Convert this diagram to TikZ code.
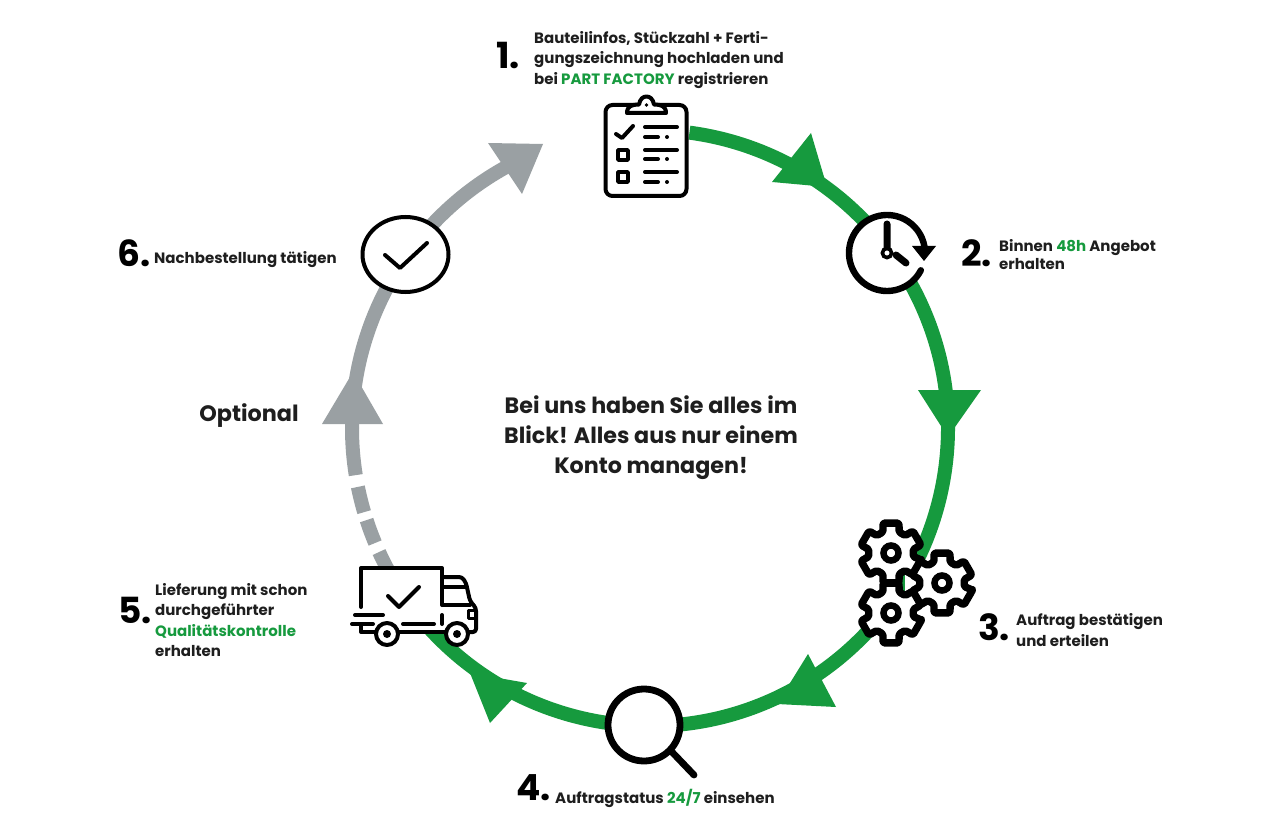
\documentclass[tikz,border=0pt]{standalone}
\usepackage{fontspec}
\setmainfont{Poppins}
\usetikzlibrary{calc}
\definecolor{pfgreen}{HTML}{169A3E}
\definecolor{pfgray}{HTML}{9AA0A3}
\definecolor{pfink}{HTML}{1E1E1E}
\newcommand{\gr}[1]{\textcolor{pfgreen}{#1}}
\tikzset{
  x=1pt,y=-1pt,
  greenring/.style={draw=pfgreen,line width=14pt},
  grayring/.style={draw=pfgray,line width=14pt},
  greenhead/.style={fill=pfgreen},
  grayhead/.style={fill=pfgray},
  icon/.style={draw=black,line width=4pt,line cap=round,line join=round},
  iconfill/.style={icon,fill=white},
  gearline/.style={draw=black,line width=7.4pt,line join=round,fill=white,rounded corners=1.5pt},
  numlabel/.style={anchor=base west,inner sep=0pt,font=\bfseries\fontsize{36}{36}\selectfont,text=black},
  steptext/.style={anchor=west,inner sep=0pt,align=left,text=pfink,font=\fontseries{sb}\fontsize{15}{#1}\selectfont},
  steptext/.default=20.5,
}
\newcommand{\gearat}[1]{%
  \draw[gearline,shift={(#1)}] (13:31) \foreach \a in {30,90,150,210,270,330}{ -- (\a-15:31) -- (\a+15:31) -- (\a+21:22.5) -- (\a+39:22.5)} -- cycle;
  \draw[draw=black,line width=6.5pt,fill=white] (#1) circle[radius=7.5];
}
\begin{document}
\begin{tikzpicture}
\useasboundingbox[fill=white] (0,0) rectangle (1280,821);
\coordinate (c) at (650,428);
\coordinate (greenstart) at ($(c)+(-82.4:298)$);
\coordinate (graystart) at ($(c)+(180:298)$);
\coordinate (dashA) at ($(c)+(168.6:298)$);
\coordinate (dashB) at ($(c)+(162:298)$);
\coordinate (dashC) at ($(c)+(155.4:298)$);
% rings
\draw[greenring] (greenstart) arc[start angle=-82.4,end angle=140,radius=298];
\draw[grayring] (graystart) arc[start angle=180,end angle=241,radius=298];
\draw[grayring] (graystart) arc[start angle=180,end angle=170.9,radius=298];
\draw[grayring] (dashA) arc[start angle=168.6,end angle=163.6,radius=298];
\draw[grayring] (dashB) arc[start angle=162,end angle=157.3,radius=298];
\draw[grayring] (dashC) arc[start angle=155.4,end angle=150,radius=298];
% arrowheads
\fill[greenhead] (811,133) -- (772,182) -- (827,187) -- cycle;
\fill[greenhead] (918,390) -- (981,390) -- (948,437) -- cycle;
\fill[greenhead] (808,654) -- (836,707) -- (777,704) -- cycle;
\fill[greenhead] (470,673) -- (527,683) -- (490,723) -- cycle;
\fill[grayhead] (353,372) -- (322,424) -- (383,424) -- cycle;
\fill[grayhead] (488,143) -- (543,144) -- (522,194) -- cycle;
% clipboard
\draw[iconfill,rounded corners=7pt] (605.5,105) rectangle (686.5,196);
\draw[iconfill] (627,113) .. controls (627,106) and (632,104.5) .. (639,104.5) .. controls (640,99) and (643,96.5) .. (646.5,96.5) .. controls (650,96.5) and (653,99) .. (654,104.5) .. controls (661,104.5) and (666,106) .. (666,113) -- cycle;
\fill[black] (646.5,105) circle[radius=1.8];
\draw[icon] (616,134) -- (622,138) -- (633,126);
\draw[icon] (645,127) -- (677,127) (645,137) -- (658,137);
\fill[black] (667,137) circle[radius=2];
\draw[icon,line width=3.6pt,line cap=butt] (618,150) rectangle (628,160);
\draw[icon] (645,150) -- (677,150) (645,159) -- (658,159);
\fill[black] (667,159) circle[radius=2];
\draw[icon,line width=3.6pt,line cap=butt] (618,172) rectangle (628,182);
\draw[icon] (645,172) -- (677,172) (645,182) -- (658,182);
\fill[black] (667,182) circle[radius=2];
% clock
\coordinate (clk) at (887,253);
\fill[white] (clk) circle[radius=38];
\draw[draw=black,line width=6.4pt,line cap=round] ($(clk)+(27:38)$) arc[start angle=27,end angle=350,radius=38];
\fill[black] (912,246) -- (936,246) -- (924,261) -- cycle;
\draw[icon,line width=7pt] (887,224) -- (887,248) (896,255) -- (906,263);
\draw[draw=black,line width=3.6pt,fill=white] (clk) circle[radius=4.6];
% gears
\fill[white] (905,570) -- (930,585) -- (905,610) -- cycle;
\gearat{891,553}
\gearat{942,583}
\gearat{891,613}
% magnifier
\draw[draw=black,line width=6.8pt,fill=white] (644,725) circle[radius=36];
\draw[draw=black,line width=6.8pt,line cap=round] (672,752) -- (694,775);
% truck
\fill[white] (361,568) rectangle (442,632);
\fill[white] (442,577) -- (465,577) -- (477,605) -- (477,632) -- (442,632) -- cycle;
\draw[icon] (361,607) -- (361,568) -- (442,568) -- (442,605);
\draw[icon,rounded corners=3pt] (443,577) -- (462,577) -- (466,583) -- (470,601) -- (476,608) -- (476,632) -- (467,632);
\draw[icon] (443,587) -- (466,587) (443,605) -- (470,605);
\draw[icon,line width=3pt] (476,610) -- (468,610) -- (468,618) -- (476,618);
\draw[icon] (355,615) -- (383,615) (352,624) -- (373,624) (403,624) -- (434,624) (442,615) -- (442,624);
\draw[icon] (361,625) -- (361,632) -- (375,632) (398,632) -- (446,632);
\draw[iconfill] (387,634) circle[radius=11];
\fill[black] (387,634) circle[radius=4];
\draw[iconfill] (457,634) circle[radius=11];
\fill[black] (457,634) circle[radius=4];
\draw[icon] (388,596) -- (399,607) -- (419,587);
% check circle
\draw[draw=black,line width=4pt,fill=white] (405.5,254.5) ellipse[x radius=43,y radius=37.5];
\draw[icon,line width=4pt] (385,255) -- (400,268) -- (427,243);
% labels
\node[numlabel] (n1) at (496,69) {1.};
\node[steptext] (t1) at (534,60) {Bauteilinfos, Stückzahl + Ferti-\\gungszeichnung hochladen und\\bei \gr{PART FACTORY} registrieren};
\node[numlabel] (n2) at (961,266) {2.};
\node[steptext=18] (t2) at (999,255) {Binnen \gr{48h} Angebot\\erhalten};
\node[numlabel] (n3) at (978,640) {3.};
\node[steptext] (t3) at (1016,630) {Auftrag bestätigen\\und erteilen};
\node[numlabel] (n4) at (516,800) {4.};
\node[steptext] (t4) at (555,798) {Auftragstatus \gr{24/7} einsehen};
\node[numlabel] (n5) at (118,623) {5.};
\node[steptext] (t5) at (155,620) {Lieferung mit schon\\durchgeführter\\\gr{Qualitätskontrolle}\\erhalten};
\node[numlabel] (n6) at (117,266) {6.};
\node[steptext] (t6) at (154,260) {Nachbestellung tätigen};
\node[anchor=center,inner sep=0pt,text=pfink,font=\fontseries{sb}\fontsize{22.3}{22.3}\selectfont] (opt) at (249,416) {Optional};
\node[anchor=center,inner sep=0pt,align=center,text=pfink,font=\fontseries{sb}\fontsize{22.2}{30}\selectfont] (mid) at (651,438) {Bei uns haben Sie alles im\\Blick! Alles aus nur einem\\Konto managen!};
\end{tikzpicture}
\end{document}
